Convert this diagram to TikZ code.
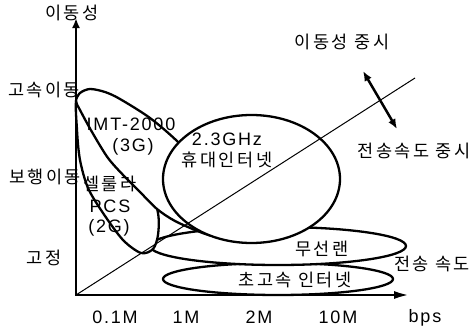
\documentclass[tikz,border=0pt]{standalone}
\usepackage{fontspec}
\setmainfont{Liberation Sans}[LetterSpace=10]
\newfontfamily\kr{Noto Sans CJK KR}[LetterSpace=14]
\usetikzlibrary{arrows.meta}
\begin{document}
\begin{tikzpicture}[x=1pt,y=-1pt,
  shp/.style={draw=black,line width=2.3pt,fill=white},
  axisline/.style={line width=2.8pt,line join=miter},
  diag/.style={line width=1pt},
  kt/.style={font={\kr\fontsize{17.5}{20}\selectfont},inner sep=0pt},
  lt/.style={font={\fontsize{18}{21}\selectfont},inner sep=0pt}]
\useasboundingbox (0,0) rectangle (475,332);
% named points
\coordinate (O) at (76,295);
\coordinate (ytip) at (76,18);
\coordinate (xtip) at (410,295);
\coordinate (dg) at (415,78);
\coordinate (a1) at (363,71);
\coordinate (a2) at (397,129);
% regions
\path[shp] (278,279) ellipse [x radius=115, y radius=16];
\path[shp] (278,246) ellipse [x radius=128, y radius=19];
\path[shp] plot[smooth cycle] coordinates {(77,98) (77,130) (80,160) (88,188) (103,213) (123,240) (141,253) (153,249) (158,235) (158,213) (148,180) (122,140) (95,110)};
\path[shp] plot[smooth cycle] coordinates {(76,101) (80,93) (90,89) (105,92) (120,99) (150,118) (178,142) (205,172) (226,210) (228,230) (215,236) (200,232) (175,221) (157,209) (140,192) (125,177) (108,158) (92,132) (80,110)};
\path[shp] (251.5,179) ellipse [x radius=88.5, y radius=64];
% diagonal
\draw[diag] (O) -- (dg);
% axes
\draw[axisline,{Latex[length=10pt,width=8pt]}-{Latex[length=16pt,width=8pt]}] (ytip) -- (O) -- (xtip);
% double arrow
\draw[line width=2.5pt,{Latex[length=10pt,width=8pt]}-{Latex[length=10pt,width=8pt]}] (a1) -- (a2);
% labels
\node[kt] (ymob) at (72,13) {이동성};
\node[kt] (lhigh) at (44,90) {고속이동};
\node[kt] (lwalk) at (45,177) {보행이동};
\node[kt] (lfix) at (44,258) {고정};
\node[lt] (t01) at (115,317) {0.1M};
\node[lt] (t1) at (186,317) {1M};
\node[lt] (t2) at (259,317) {2M};
\node[lt] (t10) at (338,317) {10M};
\node[lt] (tbps) at (425,318) {bps};
\node[kt] (mobf) at (342,42) {이동성 중시};
\node[kt] (ratef) at (414,151) {전송속도 중시};
\node[kt] (xrate) at (432,264) {전송 속도};
\node[lt] (imt) at (131,124) {IMT-2000};
\node[lt] (g3) at (133,147) {(3G)};
\node[lt] (ghz) at (227,139) {2.3GHz};
\node[kt] (wibro) at (227,160) {휴대인터넷};
\node[kt] (cell) at (110,184) {셀룰라};
\node[lt] (pcs) at (110,206) {PCS};
\node[lt] (g2) at (109,228) {(2G)};
\node[kt] (wlan) at (322,249) {무선랜};
\node[kt] (bb) at (295,280) {초고속 인터넷};
\end{tikzpicture}
\end{document}
